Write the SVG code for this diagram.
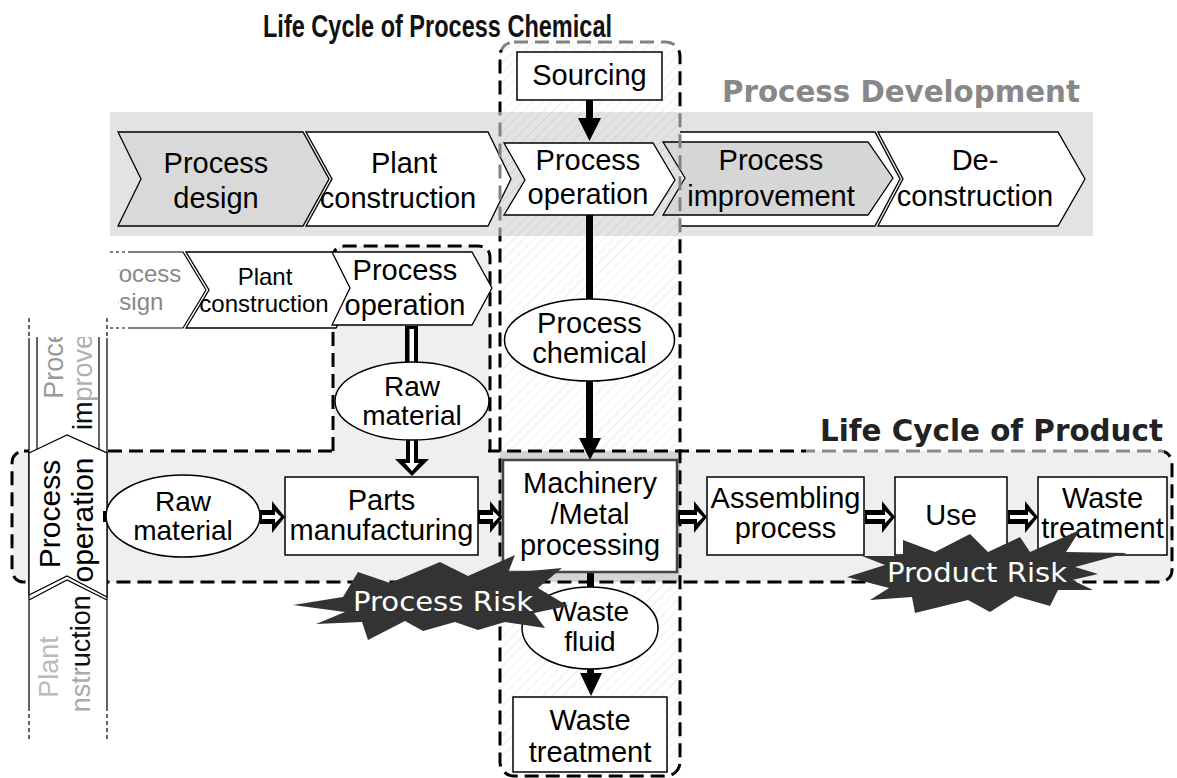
<svg xmlns="http://www.w3.org/2000/svg" width="1177" height="778" viewBox="0 0 1177 778">
<defs>
<style>
 .lbl{font-family:"Liberation Sans",Arial,sans-serif;font-size:29px;text-anchor:middle;fill:#000}
 .sm{font-size:24px}
 .el{font-size:28px}
 .box{fill:#fff;stroke:#000;stroke-width:1.5}
 .chev{stroke:#000;stroke-width:1.3}
 .brd{fill:none;stroke-width:3;stroke-dasharray:14 7}
 .risk{fill:#333}
 .risktxt{font-family:"DejaVu Sans",Verdana,sans-serif;font-size:27px;fill:#fff}
 .thin{fill:none;stroke:#000;stroke-width:1.2}
</style>
<pattern id="stripes" width="7" height="7" patternUnits="userSpaceOnUse" patternTransform="rotate(45)">
 <line x1="0" y1="0" x2="0" y2="7" stroke="#000" stroke-opacity="0.07" stroke-width="2"/>
</pattern>
<clipPath id="cColBlack"><rect x="0" y="50" width="1177" height="62"/><rect x="0" y="236" width="1177" height="542"/></clipPath>
<clipPath id="cColGray"><rect x="0" y="0" width="1177" height="50"/><rect x="0" y="112" width="1177" height="124"/></clipPath>
<clipPath id="cBoxBlack"><rect x="0" y="0" width="806" height="778"/><rect x="806" y="458" width="371" height="320"/><rect x="806" y="0" width="371" height="440"/><rect x="1164" y="440" width="13" height="18"/></clipPath>
<clipPath id="cBoxGray"><rect x="806" y="440" width="358" height="18"/></clipPath>
<clipPath id="cRow2"><rect x="118" y="240" width="100" height="100"/></clipPath>
<clipPath id="cVtop"><rect x="0" y="337" width="120" height="120"/></clipPath>
<clipPath id="cVbot"><rect x="0" y="580" width="120" height="133"/></clipPath>
<linearGradient id="gImp" x1="0" y1="0" x2="1" y2="0"><stop offset="0.17" stop-color="#111"/><stop offset="0.2" stop-color="#b0b0b0"/></linearGradient>
<linearGradient id="gCon" x1="0" y1="0" x2="1" y2="0"><stop offset="0.48" stop-color="#aaa"/><stop offset="0.52" stop-color="#111"/></linearGradient>
</defs>

<rect width="1177" height="778" fill="#fff"/>

<!-- backgrounds: chemical column, product box, their overlap, operation sub-column -->
<g id="areas">
 <rect x="500" y="42" width="180" height="734" rx="14" fill="url(#stripes)"/>
 <rect x="12" y="451" width="1160" height="131" rx="12" fill="#efefef"/>
 <rect x="500" y="451" width="180" height="131" fill="#d4d4d4"/>
 <path d="M333,452 V258 Q333,246 345,246 H478 Q490,246 490,258 V452 Z" fill="#efefef"/>
 <rect x="12" y="451" width="1160" height="131" rx="12" class="brd" stroke="#000" clip-path="url(#cBoxBlack)"/>
 <rect x="12" y="451" width="1160" height="131" rx="12" class="brd" stroke="#8a8a8a" clip-path="url(#cBoxGray)"/>
 <rect x="335" y="447" width="153" height="8" fill="#efefef"/>
 <path d="M333,451 V258 Q333,246 345,246 H478 Q490,246 490,258 V451" class="brd" stroke="#000"/>
 <rect x="500" y="42" width="180" height="734" rx="14" class="brd" stroke="#000" clip-path="url(#cColBlack)"/>
</g>

<!-- process development band -->
<g id="band">
 <rect x="110" y="112" width="983" height="124" fill="#e3e3e3"/>
 <rect x="500" y="112" width="180" height="124" fill="url(#stripes)"/>
</g>

<g id="chev-design">
 <polygon class="chev" fill="#d9d9d9" points="118,132 303,132 329,179 303,226 118,226 141,179"/>
 <text class="lbl" x="216" y="173">Process</text>
 <text class="lbl" x="216" y="208">design</text>
</g>
<g id="chev-plant">
 <polygon class="chev" fill="#fff" points="306,132 488,132 511,179 488,226 306,226 332,179"/>
 <text class="lbl" x="404" y="173">Plant</text>
 <text class="lbl" x="398" y="208">construction</text>
</g>
<g id="chev-back">
 <path class="chev" fill="#fff" d="M680,132 H875 L900,179 L875,226 H680"/>
</g>
<g id="chev-operation">
 <polygon class="chev" fill="#fff" points="504,143 653,143 675,180 653,215 504,215 525,180"/>
 <text class="lbl" x="588" y="170">Process</text>
 <text class="lbl" x="588" y="204">operation</text>
</g>
<g id="chev-improvement">
 <polygon class="chev" fill="#d6d6d6" points="663,142 868,142 893,178 868,215 663,215 685,178"/>
 <text class="lbl" x="771" y="170">Process</text>
 <text class="lbl" x="771" y="206">improvement</text>
</g>
<g id="chev-deconstruction">
 <polygon class="chev" fill="#fff" points="878,132 1058,132 1085,179 1058,226 878,226 903,179"/>
 <text class="lbl" x="975" y="170">De-</text>
 <text class="lbl" x="975" y="206">construction</text>
</g>

<rect x="500" y="42" width="180" height="734" rx="14" class="brd" stroke="#828282" clip-path="url(#cColGray)"/>

<!-- titles -->
<text x="263" y="37" font-family="Liberation Sans Narrow, Liberation Sans, Arial, sans-serif" font-weight="bold" font-size="31" fill="#111" textLength="349" lengthAdjust="spacingAndGlyphs">Life Cycle of Process Chemical</text>
<text x="722" y="102" font-family="DejaVu Sans, Verdana, sans-serif" font-weight="bold" font-size="30.5" fill="#888" textLength="358" lengthAdjust="spacingAndGlyphs">Process Development</text>
<text x="820" y="441" font-family="DejaVu Sans, Verdana, sans-serif" font-weight="bold" font-size="29.5" fill="#222" textLength="343" lengthAdjust="spacingAndGlyphs">Life Cycle of Product</text>

<!-- second row of stages -->
<g id="row2-design">
 <polygon fill="#fff" points="110,252 183,252 206,290 183,328 110,328"/>
 <path class="thin" d="M130,252 H183 L206,290 L183,328 H130"/>
 <path class="thin" stroke-dasharray="3 3" d="M110,252 H130 M110,328 H130"/>
 <g clip-path="url(#cRow2)">
  <text class="lbl" x="138" y="282" style="font-size:24px;fill:#888">Process</text>
  <text class="lbl" x="128" y="310" style="font-size:24px;fill:#888">design</text>
 </g>
</g>
<g id="row2-plant">
 <polygon class="chev" fill="#fff" points="186,252 336,252 354,290 336,328 186,328 209,290"/>
 <text class="lbl sm" x="265" y="285">Plant</text>
 <text class="lbl sm" x="264" y="312">construction</text>
</g>
<g id="row2-operation">
 <polygon class="chev" fill="#fff" points="332,252 472,252 492,288 472,325 332,325 350,288"/>
 <text class="lbl" x="405" y="280">Process</text>
 <text class="lbl" x="405" y="315">operation</text>
</g>

<!-- vertical stage strip -->
<g id="vstrip">
 <rect x="29" y="338" width="78" height="369" fill="#fff"/>
 <path class="thin" d="M29,338 V707 M107,338 V707 M37,337 V452 M99,337 V452"/>
 <path class="thin" stroke-dasharray="4 3" d="M29,318 V338 M107,318 V338 M29,707 V742 M107,707 V742"/>
 <g clip-path="url(#cVtop)">
  <text class="lbl" transform="translate(63,350) rotate(-90)" style="font-size:27px;fill:#999">Process</text>
  <text class="lbl" transform="translate(92,352) rotate(-90)" style="font-size:27px;fill:url(#gImp)">improvement</text>
 </g>
 <polyline class="thin" points="29,600 67,580 107,600"/>
 <g clip-path="url(#cVbot)">
  <text class="lbl" transform="translate(58,667) rotate(-90)" style="font-size:27px;fill:#bbb">Plant</text>
  <text class="lbl" transform="translate(90,668) rotate(-90)" style="font-size:27px;fill:url(#gCon)">construction</text>
 </g>
</g>
<g id="v-operation">
 <polygon class="chev" fill="#fff" points="29,453 67,435 107,453 107,597 67,576 29,595"/>
 <text class="lbl" transform="translate(60,514) rotate(-90)" style="font-size:30px">Process</text>
 <text class="lbl" transform="translate(93,520) rotate(-90)" style="font-size:30px">operation</text>
</g>

<!-- connectors -->
<g id="connectors">
 <rect x="586" y="100" width="7" height="20"/>
 <polygon points="578,118 601,118 589.5,141"/>
 <rect x="586" y="215" width="7" height="86"/>
 <rect x="586" y="379" width="7" height="62"/>
 <polygon points="579,438 601,438 590,460"/>
 <rect x="587" y="572" width="7" height="17"/>
 <rect x="587" y="667" width="7" height="9"/>
 <polygon points="580,673 602,673 591,696"/>
 <rect x="405" y="326" width="13" height="40"/>
 <rect x="409.5" y="329" width="4.5" height="37" fill="#fff"/>
 <path d="M406,438 V459 H395 L412,476 L429,459 H418 V438 Z"/>
 <path d="M410,438 V463 H405 L412,471 L419,463 H414 V438 Z" fill="#fff"/>
 <rect x="103" y="511" width="7" height="11"/>
 <path d="M260,510 H272 V501 L285,517 L272,533 V524 H260 Z"/>
 <path d="M262,515 H275 V511 L281,517 L275,523 V519 H262 Z" fill="#fff"/>
 <path d="M478,510 H490 V501 L503,517 L490,533 V524 H478 Z"/>
 <path d="M480,515 H493 V511 L499,517 L493,523 V519 H480 Z" fill="#fff"/>
 <path d="M678,510 H694 V501 L707,517 L694,533 V524 H678 Z"/>
 <path d="M680,515 H697 V511 L703,517 L697,523 V519 H680 Z" fill="#fff"/>
 <path d="M865,510 H882 V501 L895,517 L882,533 V524 H865 Z"/>
 <path d="M867,515 H885 V511 L891,517 L885,523 V519 H867 Z" fill="#fff"/>
 <path d="M1008,510 H1025 V501 L1038,517 L1025,533 V524 H1008 Z"/>
 <path d="M1010,515 H1028 V511 L1034,517 L1028,523 V519 H1010 Z" fill="#fff"/>
</g>

<!-- nodes -->
<g id="sourcing">
 <rect class="box" x="517" y="52" width="145" height="48"/>
 <text class="lbl" x="589.5" y="85">Sourcing</text>
</g>
<g id="process-chemical">
 <ellipse class="box" cx="589.5" cy="340" rx="85" ry="41"/>
 <text class="lbl" x="589.5" y="333">Process</text>
 <text class="lbl" x="589.5" y="363">chemical</text>
</g>
<g id="raw-material-op">
 <ellipse class="box" cx="412" cy="401" rx="77" ry="39"/>
 <text class="lbl el" x="412" y="396">Raw</text>
 <text class="lbl el" x="412" y="425">material</text>
</g>
<g id="raw-material">
 <ellipse class="box" cx="183" cy="516" rx="77" ry="41"/>
 <text class="lbl el" x="183" y="511">Raw</text>
 <text class="lbl el" x="183" y="540">material</text>
</g>
<g id="parts">
 <rect class="box" x="285" y="477" width="193" height="78"/>
 <text class="lbl" x="381.5" y="510">Parts</text>
 <text class="lbl" x="381.5" y="540">manufacturing</text>
</g>
<g id="machinery">
 <rect x="503" y="460" width="174" height="112" fill="#fff" stroke="#444" stroke-width="2.5"/>
 <text class="lbl" x="590" y="493">Machinery</text>
 <text class="lbl" x="590" y="524">/Metal</text>
 <text class="lbl" x="590" y="555">processing</text>
</g>
<g id="assembling">
 <rect class="box" x="707" y="477" width="157" height="78"/>
 <text class="lbl" x="785.5" y="508">Assembling</text>
 <text class="lbl" x="785.5" y="538">process</text>
</g>
<g id="use">
 <rect class="box" x="895" y="477" width="112" height="78"/>
 <text class="lbl" x="951" y="525">Use</text>
</g>
<g id="product-waste">
 <rect class="box" x="1038" y="477" width="129" height="78"/>
 <text class="lbl" x="1102.5" y="508">Waste</text>
 <text class="lbl" x="1102.5" y="538">treatment</text>
</g>
<g id="waste-fluid">
 <ellipse class="box" cx="590" cy="628" rx="68" ry="41"/>
 <text class="lbl el" x="590" y="621">Waste</text>
 <text class="lbl el" x="590" y="651">fluid</text>
</g>
<g id="chemical-waste">
 <rect class="box" x="513" y="697" width="154" height="75"/>
 <text class="lbl" x="590" y="730">Waste</text>
 <text class="lbl" x="590" y="762">treatment</text>
</g>

<!-- risk bursts -->
<g id="process-risk">
 <polygon class="risk" points="293,605 343,597 358,572 390,583 440,562 468,576 515,555 508,573 562,568 538,588 568,606 534,613 545,628 505,622 478,630 455,622 423,631 405,621 368,640 362,622 316,624 345,612"/>
 <text class="risktxt" x="353" y="611" textLength="180" lengthAdjust="spacingAndGlyphs">Process Risk</text>
</g>
<g id="product-risk">
 <polygon class="risk" points="847,577 885,565 862,556 903,556 903,540 935,552 970,534 988,552 1020,537 1030,552 1080,530 1066,552 1127,553 1075,567 1098,574 1072,580 1093,590 1058,590 1050,606 1015,596 990,612 968,600 915,613 912,597 870,600 889,588"/>
 <text class="risktxt" x="887" y="582" textLength="180" lengthAdjust="spacingAndGlyphs">Product Risk</text>
</g>
</svg>
